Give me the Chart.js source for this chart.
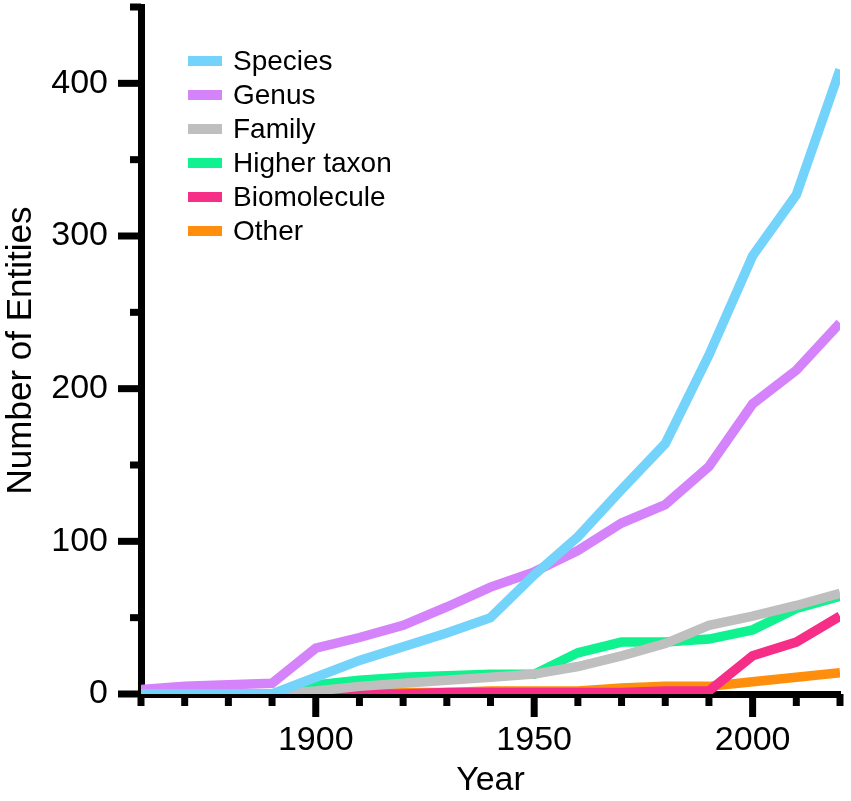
<!DOCTYPE html>
<html>
<head>
<meta charset="utf-8">
<script src="https://cdn.jsdelivr.net/npm/chart.js@4.4.1/dist/chart.umd.min.js"></script>
<style>
  html, body { margin: 0; padding: 0; background: #fff; }
  #wrap { width: 851px; height: 801px; position: relative; }
</style>
</head>
<body>
<div id="wrap"><canvas id="chart"></canvas></div>
<script>
// decades along the x axis
const years = [1860, 1870, 1880, 1890, 1900, 1910, 1920, 1930, 1940, 1950, 1960, 1970, 1980, 1990, 2000, 2010, 2020];

// values
const species     = [0, 0, 0, 0, 11, 22, 31, 40, 50, 78, 103, 134, 164, 222, 287, 327, 409];
const genus       = [3, 5, 6, 7, 30, 37, 45, 57, 70, 80, 94, 112, 124, 149, 190, 212, 243];
const family      = [0, 0, 0, 0, 2, 5, 7, 9, 11, 13, 18, 25, 33, 45, 51, 58, 66];
const higherTaxon = [0, 0, 0, 0, 6, 9, 11, 12, 13, 13, 27, 34, 34, 36, 42, 56, 64];
const biomolecule = [0, 0, 0, 0, 0, 0, 0, 1, 1, 1, 1, 1, 2, 2, 25, 34, 51];
const other       = [0, 0, 0, 0, 0, 0, 1, 1, 2, 2, 2, 4, 5, 5, 8, 11, 14];

const seriesNames  = ['Species', 'Genus', 'Family', 'Higher taxon', 'Biomolecule', 'Other'];
const seriesValues = [species, genus, family, higherTaxon, biomolecule, other];
const seriesColors = ['#74D3FB', '#D583FA', '#BFBFBF', '#10F18F', '#F72E88', '#FF8E0C'];

const FONT = '"Liberation Sans", Arial, Helvetica, sans-serif';

// draws the long/short tick marks on both axes
const axisTicks = {
    id: 'axisTicks',
    afterDraw(chart) {
        const {ctx, chartArea, scales} = chart;
        ctx.save();
        ctx.strokeStyle = '#000';
        ctx.lineWidth = 7;
        ctx.lineCap = 'butt';
        scales.x.ticks.forEach(t => {
            const px = scales.x.getPixelForValue(t.value);
            const len = t.value % 50 === 0 ? 23 : 12;
            ctx.beginPath();
            ctx.moveTo(px, chartArea.bottom);
            ctx.lineTo(px, chartArea.bottom + len);
            ctx.stroke();
        });
        scales.y.ticks.forEach(t => {
            const py = scales.y.getPixelForValue(t.value);
            const len = t.value % 100 === 0 ? 23 : 11;
            ctx.beginPath();
            ctx.moveTo(chartArea.left, py);
            ctx.lineTo(chartArea.left - len, py);
            ctx.stroke();
        });
        ctx.restore();
    }
};

// legend in the upper-left corner of the plot
const insideLegend = {
    id: 'insideLegend',
    afterDraw(chart) {
        const {ctx} = chart;
        ctx.save();
        ctx.font = '28px ' + FONT;
        ctx.textBaseline = 'middle';
        ctx.textAlign = 'left';
        chart.data.datasets.forEach((ds, i) => {
            const y = 61 + i * 34;
            ctx.fillStyle = ds.borderColor;
            ctx.fillRect(188, y - 5, 34, 10);
            ctx.fillStyle = '#000';
            ctx.fillText(ds.label, 233, y + 1);
        });
        ctx.restore();
    }
};

new Chart(document.getElementById('chart'), {
    type: 'line',
    data: {
        datasets: seriesNames.map((name, i) => ({
            label: name,
            data: years.map((yr, j) => ({x: yr, y: seriesValues[i][j]})),
            borderColor: seriesColors[i],
            backgroundColor: seriesColors[i],
            borderWidth: 9.5,
            pointRadius: 0,
            tension: 0,
            clip: 0
        }))
    },
    options: {
        responsive: true,
        maintainAspectRatio: false,
        animation: false,
        layout: { padding: { top: 7, right: 11, left: 0, bottom: 0 } },
        plugins: {
            legend: { display: false },
            tooltip: { enabled: false }
        },
        scales: {
            x: {
                type: 'linear',
                min: 1860,
                max: 2020,
                z: 1,
                afterFit: s => { s.height = 107; s.paddingLeft = 0; s.paddingRight = 0; },
                border: { display: true, color: '#000', width: 7 },
                grid: { display: true, drawOnChartArea: false, drawTicks: true, tickLength: 23, tickColor: 'rgba(0,0,0,0)' },
                ticks: {
                    stepSize: 10,
                    autoSkip: false,
                    maxRotation: 0,
                    padding: 3,
                    color: '#000',
                    font: { family: FONT, size: 34 },
                    callback: v => (v % 50 === 0 ? String(v) : '')
                },
                title: {
                    display: true,
                    text: 'Year',
                    color: '#000',
                    font: { family: FONT, size: 34 },
                    padding: { top: 0, bottom: 0 }
                }
            },
            y: {
                type: 'linear',
                min: 0,
                max: 450,
                z: 1,
                afterFit: s => { s.width = 141; s.paddingTop = 0; s.paddingBottom = 0; },
                border: { display: true, color: '#000', width: 7 },
                grid: { display: true, drawOnChartArea: false, drawTicks: true, tickLength: 23, tickColor: 'rgba(0,0,0,0)' },
                ticks: {
                    stepSize: 50,
                    autoSkip: false,
                    padding: 10,
                    color: '#000',
                    font: { family: FONT, size: 34 },
                    callback: v => (v % 100 === 0 ? String(v) : '')
                },
                title: {
                    display: true,
                    text: 'Number of Entities',
                    color: '#000',
                    font: { family: FONT, size: 35 },
                    padding: { top: 0, bottom: 0 }
                }
            }
        }
    },
    plugins: [axisTicks, insideLegend]
});
</script>
</body>
</html>
